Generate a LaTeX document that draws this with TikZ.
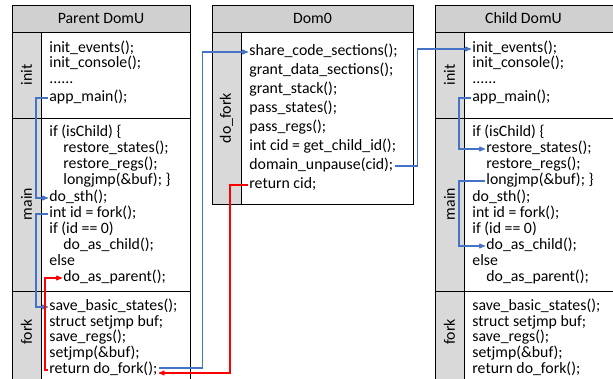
\documentclass[tikz,border=0pt]{standalone}
\usepackage{fontspec}
\setmainfont{Carlito}
\usetikzlibrary{arrows}
\definecolor{callblue}{HTML}{4472C4}
\definecolor{headgray}{HTML}{D0D0D0}
\definecolor{sidegray}{HTML}{D9D9D9}
\newcommand{\codedots}{......}

\begin{document}
\begin{tikzpicture}[x=1pt,y=-1pt,>=stealth',line width=0.8pt,
  code line/.style={anchor=west,inner xsep=1pt,inner ysep=0pt,text height=10pt,
    text depth=3.5pt,font=\fontsize{15.8}{16}\selectfont},
  part name/.style={font=\fontsize{15.8}{16}\selectfont,rotate=90},
  head name/.style={font=\fontsize{15.8}{16}\selectfont}]

  \tikzstyle{call} = [draw=callblue,line width=1.1pt,->]
  \tikzstyle{back} = [draw=red,line width=1.1pt,->]

  \useasboundingbox (0,0) rectangle (613,378);

  % the two DomU frames
  \foreach \ox in {0,423} {
    \fill[headgray] (12+\ox,5) rectangle (190+\ox,32);
    \fill[sidegray] (12+\ox,32) rectangle (41+\ox,380);
    \draw (12+\ox,380) -- (12+\ox,5) -- (190+\ox,5) -- (190+\ox,380);
    \draw (12+\ox,32) -- (190+\ox,32) (12+\ox,118) -- (190+\ox,118)
          (12+\ox,291) -- (190+\ox,291) (41+\ox,32) -- (41+\ox,380);
    \node[part name] at (26.5+\ox,75) {init};
    \node[part name] at (26.5+\ox,204) {main};
    \node[part name] at (26.5+\ox,332) {fork};
  }

  % Dom0 frame
  \fill[headgray] (212,5) rectangle (413,32);
  \fill[sidegray] (212,32) rectangle (241,204);
  \draw (212,5) rectangle (413,204);
  \draw (212,32) -- (413,32) (241,32) -- (241,204);
  \node[part name] at (226.5,118) {do\_fork};

  \node[head name] (parent) at (101,18.5) {Parent DomU};
  \node[head name] (dom0) at (312.5,18.5) {Dom0};
  \node[head name] (child) at (523.5,18.5) {Child DomU};

  % code of both DomUs
  \foreach \b/\ox in {p/0,c/423}
    \foreach \dx/\y/\t [count=\i] in {
        0/49/init\_events();, 0/64.5/init\_console();, 0/80/\codedots, 0/98/app\_main();,
        0/133/if (isChild) \{, 14/149/restore\_states();, 14/165/restore\_regs();,
        14/181/longjmp(\&buf); \}, 0/198/do\_sth();, 0/214/int id = fork();,
        0/230/if (id == 0), 14/246/do\_as\_child();, 0/262/else,
        14/278/do\_as\_parent();, 0/307/save\_basic\_states();,
        0/323/struct setjmp buf;, 0/338.5/save\_regs();, 0/354/setjmp(\&buf);,
        0/370/return do\_fork();}
      \node[code line] (\b\i) at (48+\ox+\dx,\y) {\t};

  % code of Dom0
  \foreach \t [count=\i] in {share\_code\_sections();, grant\_data\_sections();,
      grant\_stack();, pass\_states();, pass\_regs();, int cid = get\_child\_id();,
      domain\_unpause(cid);, return cid;}
    \node[code line] (d\i) at (248,33+19*\i) {\t};

  \draw[call] (p4.west) -- ++(-12,0) |- (p9.west);
  \draw[call] (p10.west) -- ++(-12,0) |- (p15.west);
  \draw[call] ([yshift=2pt]p19.east) -- ++(44,0) |- (d1.west);
  \draw[call] (d7.east) -- ++(23,0) |- (c1.west);
  \draw[call] (c4.west) -- ++(-12,0) |- (c6.west);
  \draw[call] (c8.west) -- ++(-26,0) |- (c12.west);
  \draw[back] (d8.west) -- ++(-18,0) |- ([yshift=-3pt]p19.east);
  \draw[back] (p19.west) -- ++(-3,0) |- (p14.west);
\end{tikzpicture}
\end{document}
